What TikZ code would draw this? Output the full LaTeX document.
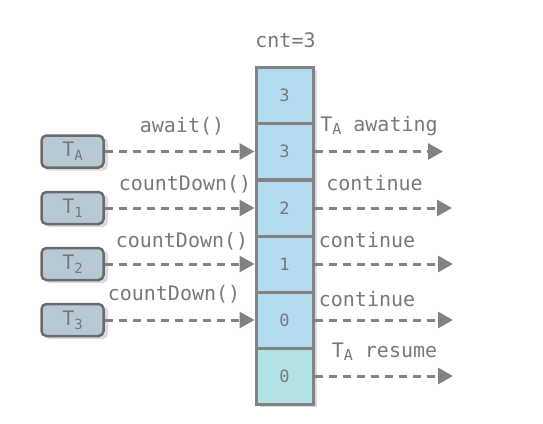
\documentclass[tikz,border=0pt]{standalone}
\usepackage{fontspec}
\setmonofont{DejaVu Sans Mono}
\usetikzlibrary{arrows.meta}
\definecolor{cellblue}{HTML}{B3DAEF}
\definecolor{cellteal}{HTML}{B3E2E4}
\definecolor{boxfill}{HTML}{B8C9D6}
\definecolor{edgec}{HTML}{828282}
\definecolor{boxedge}{HTML}{6B6B6B}
\definecolor{txt}{HTML}{787878}
\definecolor{shadowc}{HTML}{DADADA}
\newcommand{\subx}[1]{\raisebox{-0.4ex}{\fontsize{14}{14}\selectfont #1}}
\newcommand{\subl}[1]{\raisebox{-0.35ex}{\fontsize{15}{15}\selectfont #1}}
\begin{document}
\begin{tikzpicture}[x=1pt,y=-1pt,
 cell/.style={draw=edgec, line width=3pt, fill=cellblue, minimum width=57pt, minimum height=56pt, inner sep=0pt, font=\ttfamily\fontsize{17}{17}\selectfont, text=txt},
 thr/.style={draw=boxedge, line width=2.5pt, fill=boxfill, rounded corners=5pt, minimum width=62pt, minimum height=32pt, inner sep=0pt, font=\ttfamily\fontsize{20}{20}\selectfont, text=txt},
 lbl/.style={font=\ttfamily\fontsize{20}{20}\selectfont, text=txt, inner sep=0pt, text height=14pt, text depth=4pt},
 darr/.style={draw=edgec, line width=3pt, dash pattern=on 8pt off 6pt, -{Triangle[length=15pt,width=16pt]}}
]
\useasboundingbox (0,0) rectangle (543,423);
% shadows
\fill[shadowc] (259.5,70) rectangle (316.5,407);
\foreach \yy in {151.5,208,264,320}{
  \fill[shadowc, rounded corners=5pt] (44,\yy-14) rectangle (108,\yy+19);
}
% column cells
\node[cell] (c1) at (284.5,95) {3};
\node[cell] (c2) at (284.5,151.5) {3};
\node[cell] (c3) at (284.5,208) {2};
\node[cell] (c4) at (284.5,264) {1};
\node[cell] (c5) at (284.5,320) {0};
\node[cell, fill=cellteal] (c6) at (284.5,376) {0};
% threads
\node[thr] (ta) at (72.5,151.5) {T\subx{A}};
\node[thr] (t1) at (72.5,208) {T\subx{1}};
\node[thr] (t2) at (72.5,264) {T\subx{2}};
\node[thr] (t3) at (72.5,320) {T\subx{3}};
% free ends
\coordinate (e2) at (443,151.5);
\coordinate (e3) at (452,208);
\coordinate (e4) at (453,264);
\coordinate (e5) at (453,320);
\coordinate (e6) at (453,376);
% left arrows
\draw[darr] (ta.east) -- (c2.west);
\draw[darr] (t1.east) -- (c3.west);
\draw[darr] (t2.east) -- (c4.west);
\draw[darr] (t3.east) -- (c5.west);
% right arrows
\draw[darr] (c2.east) -- (e2);
\draw[darr] (c3.east) -- (e3);
\draw[darr] (c4.east) -- (e4);
\draw[darr] (c5.east) -- (e5);
\draw[darr] (c6.east) -- (e6);
% labels
\node[lbl] (cnt) at (285.5,42) {cnt=3};
\node[lbl] (l1) at (182,127) {await()};
\node[lbl] (l2) at (185,185) {countDown()};
\node[lbl] (l3) at (182,242) {countDown()};
\node[lbl] (l4) at (174,295) {countDown()};
\node[lbl] (r1) at (379,126) {T\subl{A} awating};
\node[lbl] (r2) at (374.5,185) {continue};
\node[lbl] (r3) at (367,242) {continue};
\node[lbl] (r4) at (367,301.5) {continue};
\node[lbl] (r5) at (384.5,352) {T\subl{A} resume};
\end{tikzpicture}
\end{document}
